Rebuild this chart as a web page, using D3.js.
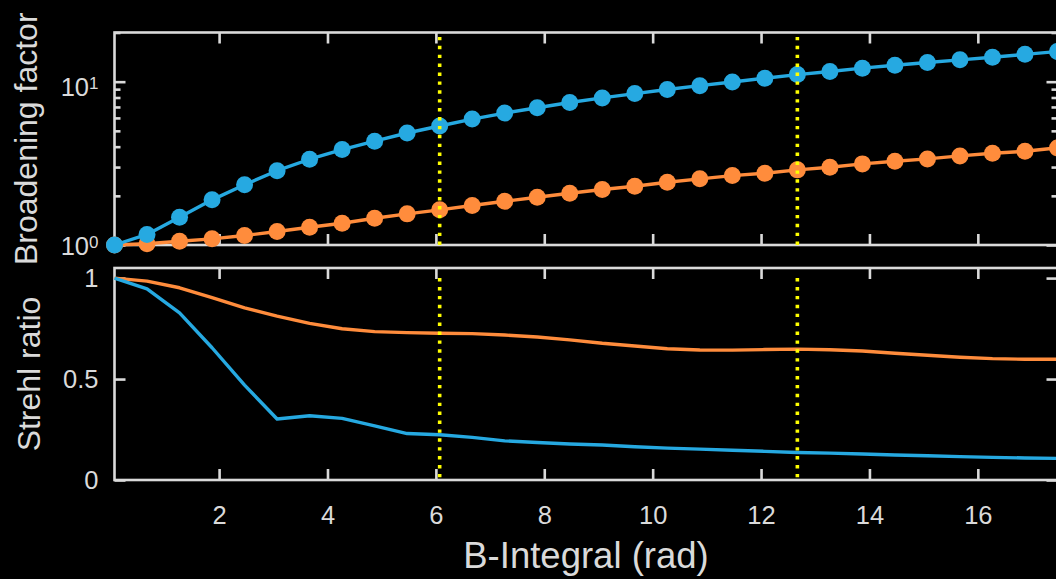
<!DOCTYPE html>
<html><head><meta charset="utf-8">
<script src="https://cdn.jsdelivr.net/npm/d3@7/dist/d3.min.js"></script>
<style>html,body{margin:0;padding:0;background:#000;overflow:hidden;} svg{display:block;}</style>
</head><body>
<svg id="c" width="1056" height="579"></svg>
<script>
// ---- data ----
const B = [0.07, 0.67, 1.27, 1.87, 2.47, 3.07, 3.67, 4.27, 4.87, 5.47, 6.07, 6.67, 7.27, 7.87, 8.47, 9.07, 9.67, 10.27, 10.87, 11.47, 12.07, 12.67, 13.27, 13.87, 14.47, 15.07, 15.67, 16.27, 16.87, 17.47];
const broadBlue = [1.00, 1.16, 1.48, 1.89, 2.34, 2.85, 3.35, 3.84, 4.32, 4.85, 5.35, 5.90, 6.42, 6.92, 7.45, 7.95, 8.45, 8.95, 9.45, 9.95, 10.5, 11.05, 11.55, 12.1, 12.6, 13.1, 13.6, 14.1, 14.7, 15.3];
const broadOrange = [1.00, 1.017, 1.055, 1.091, 1.143, 1.209, 1.285, 1.359, 1.458, 1.551, 1.642, 1.744, 1.853, 1.961, 2.074, 2.185, 2.289, 2.421, 2.541, 2.661, 2.75, 2.884, 2.99, 3.138, 3.255, 3.366, 3.512, 3.643, 3.747, 3.93];
const strehlBlue = [1.00, 0.947, 0.828, 0.655, 0.470, 0.302, 0.318, 0.305, 0.268, 0.230, 0.224, 0.211, 0.194, 0.186, 0.178, 0.173, 0.165, 0.158, 0.153, 0.147, 0.142, 0.136, 0.133, 0.129, 0.124, 0.120, 0.116, 0.112, 0.109, 0.107];
const strehlOrange = [1.00, 0.985, 0.952, 0.903, 0.853, 0.812, 0.776, 0.749, 0.735, 0.730, 0.727, 0.725, 0.718, 0.708, 0.694, 0.677, 0.664, 0.650, 0.644, 0.643, 0.646, 0.648, 0.645, 0.639, 0.628, 0.618, 0.608, 0.601, 0.598, 0.598];
const yellowLines = [6.07, 12.67];
const xTicks = [2, 4, 6, 8, 10, 12, 14, 16];
const yTopMajor = [1, 10];
const yTopMinor = [2, 3, 4, 5, 6, 7, 8, 9, 20];
const yBotTicks = [0, 0.5, 1];
const xLabel = "B-Integral (rad)";
const yTopLabel = "Broadening factor";
const yBotLabel = "Strehl ratio";

// ---- styles ----
const BLUE = "#26a9e1", ORANGE = "#ff8c3c", AX = "#dadada", YEL = "#ffff00";
const FONT = "'Liberation Sans', Arial, Helvetica, sans-serif";

const svg = d3.select("#c");
svg.append("rect").attr("width", 1056).attr("height", 579).attr("fill", "#000");

const L = 114.5, R = 1057.5;
const x = d3.scaleLinear().domain([0.07, 17.47]).range([L, R]);
const yTop = d3.scaleLog().domain([1, 20]).range([245, 32.5]);
const yBot = d3.scaleLinear().domain([0, 1.05]).range([480, 268]);

function styleAxis(g) {
  g.select(".domain").remove();
  g.selectAll("line").attr("stroke", AX).attr("stroke-width", 2.6);
  g.selectAll("text").attr("fill", AX).attr("font-family", FONT).attr("font-size", 25.5);
}

function panel(y, yt, minor, fmt) {
  const [y0, y1] = y.range();
  const g = svg.append("g");
  g.append("g").attr("transform", `translate(0,${y0})`)
    .call(d3.axisBottom(x).tickValues(xTicks).tickSize(-11).tickPadding(26).tickFormat(fmt ? d3.format("d") : () => ""))
    .call(styleAxis);
  g.append("g").attr("transform", `translate(0,${y1})`)
    .call(d3.axisTop(x).tickValues(xTicks).tickSize(-11).tickFormat(() => ""))
    .call(styleAxis);
  const la = g.append("g").attr("transform", `translate(${L},0)`)
    .call(d3.axisLeft(y).tickValues(yt.vals).tickSize(-11).tickPadding(16).tickFormat(yt.fmt))
    .call(styleAxis);
  g.append("g").attr("transform", `translate(${R},0)`)
    .call(d3.axisRight(y).tickValues(yt.vals).tickSize(-11).tickFormat(() => ""))
    .call(styleAxis);
  if (minor) {
    g.append("g").attr("transform", `translate(${L},0)`)
      .call(d3.axisLeft(y).tickValues(minor).tickSize(-6).tickFormat(() => ""))
      .call(styleAxis);
    g.append("g").attr("transform", `translate(${R},0)`)
      .call(d3.axisRight(y).tickValues(minor).tickSize(-6).tickFormat(() => ""))
      .call(styleAxis);
  }
  g.append("rect").attr("x", L).attr("y", y1).attr("width", R - L).attr("height", y0 - y1)
    .attr("fill", "none").attr("stroke", AX).attr("stroke-width", 2.6);
  return la;
}

// top panel
const la = panel(yTop, { vals: yTopMajor, fmt: () => "" }, yTopMinor, false);
la.selectAll(".tick text").each(function (d) {
  const t = d3.select(this);
  t.append("tspan").text("10");
  t.append("tspan").attr("dy", "-0.45em").attr("font-size", 17).text(String(Math.round(Math.log10(d))));
  t.attr("dy", d === 1 ? "0.38em" : "0.55em");
});
// bottom panel
panel(yBot, { vals: yBotTicks, fmt: d => d3.format("~g")(d) }, null, true);

// series
const lineOf = y => d3.line().x((d, i) => x(B[i])).y(d => y(d));
const gTop = svg.append("g");
[[broadOrange, ORANGE], [broadBlue, BLUE]].forEach(([s, c]) => {
  gTop.append("path").datum(s).attr("d", lineOf(yTop)).attr("fill", "none")
    .attr("stroke", c).attr("stroke-width", 3.4).attr("stroke-linejoin", "round");
  gTop.selectAll(null).data(s).enter().append("circle")
    .attr("cx", (d, i) => x(B[i])).attr("cy", d => yTop(d)).attr("r", 8.5).attr("fill", c);
});
const gBot = svg.append("g");
[[strehlOrange, ORANGE], [strehlBlue, BLUE]].forEach(([s, c]) => {
  gBot.append("path").datum(s).attr("d", lineOf(yBot)).attr("fill", "none")
    .attr("stroke", c).attr("stroke-width", 3.4).attr("stroke-linejoin", "round");
});

// yellow dotted markers
yellowLines.forEach(v => {
  svg.append("line").attr("x1", x(v)).attr("x2", x(v)).attr("y1", yTop(1)).attr("y2", yTop(20))
    .attr("stroke", YEL).attr("stroke-width", 3.6).attr("stroke-dasharray", "3.4,5.5");
  svg.append("line").attr("x1", x(v)).attr("x2", x(v)).attr("y1", yBot(1)).attr("y2", yBot(0))
    .attr("stroke", YEL).attr("stroke-width", 3.6).attr("stroke-dasharray", "3.4,5.5");
});

// axis labels
svg.append("text").attr("x", (L + R) / 2).attr("y", 568).attr("text-anchor", "middle")
  .attr("fill", AX).attr("font-family", FONT).attr("font-size", 36.5).text(xLabel);
svg.append("text").attr("transform", `translate(37,${(yTop(1) + yTop(20)) / 2}) rotate(-90)`)
  .attr("text-anchor", "middle").attr("fill", AX).attr("font-family", FONT).attr("font-size", 32).text(yTopLabel);
svg.append("text").attr("transform", `translate(40,${(yBot(0) + yBot(1.05)) / 2}) rotate(-90)`)
  .attr("text-anchor", "middle").attr("fill", AX).attr("font-family", FONT).attr("font-size", 32).text(yBotLabel);
</script>
</body></html>
